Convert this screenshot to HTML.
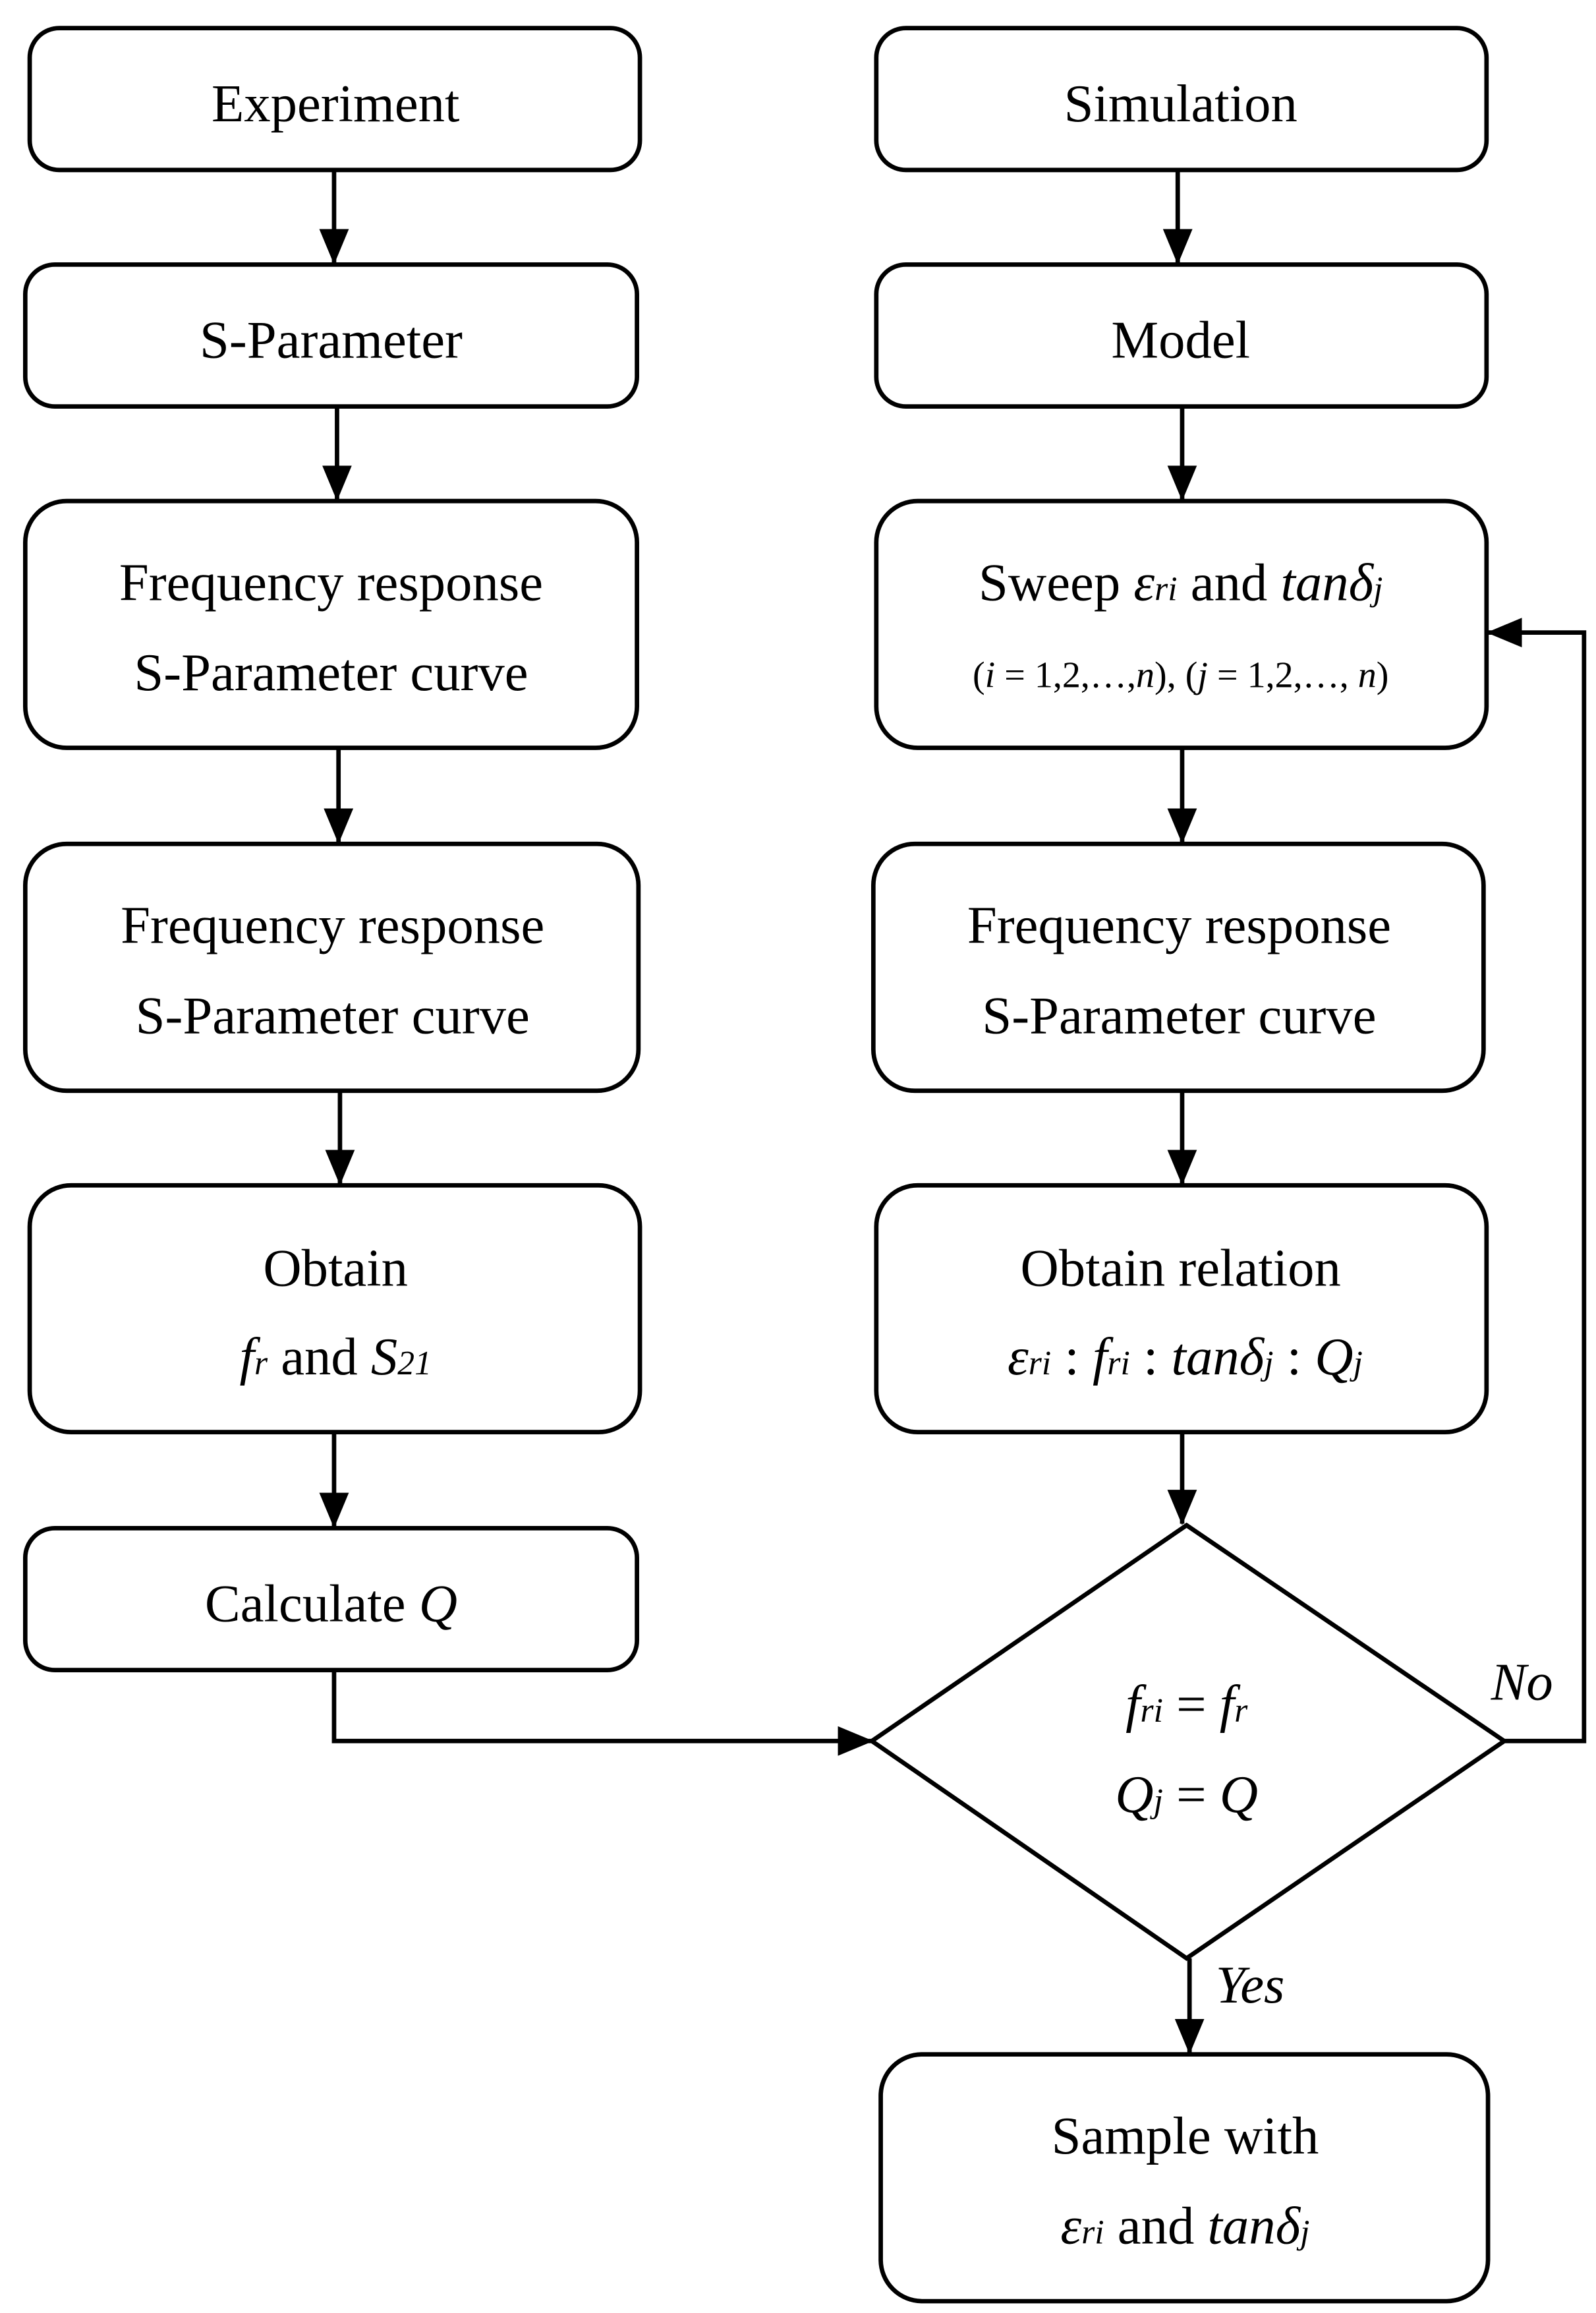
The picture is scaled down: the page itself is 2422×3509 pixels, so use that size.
<!DOCTYPE html>
<html><head><meta charset="utf-8"><style>
html,body{margin:0;padding:0;background:#fff;}
svg{display:block;}
text{font-family:"Liberation Serif",serif;fill:#000;}
</style></head><body>
<svg width="2422" height="3509" viewBox="0 0 1080 1565" xmlns="http://www.w3.org/2000/svg">
<defs>
<marker id="a" markerWidth="24" markerHeight="20" refX="23" refY="10" orient="auto" markerUnits="userSpaceOnUse" viewBox="0 0 24 20">
<path d="M0,0 L24,10 L0,20 z" fill="#000"/>
</marker>
</defs>
<g fill="none" stroke="#000" stroke-width="3">
<rect x="20" y="19" width="413" height="96" rx="20"/>
<rect x="17" y="179" width="414" height="96" rx="20"/>
<rect x="17" y="339" width="414" height="167" rx="28"/>
<rect x="17" y="571" width="415" height="167" rx="28"/>
<rect x="20" y="802" width="413" height="167" rx="28"/>
<rect x="17" y="1034" width="414" height="96" rx="20"/>
<rect x="593" y="19" width="413" height="96" rx="20"/>
<rect x="593" y="179" width="413" height="96" rx="20"/>
<rect x="593" y="339" width="413" height="167" rx="28"/>
<rect x="591" y="571" width="413" height="167" rx="28"/>
<rect x="593" y="802" width="413" height="167" rx="28"/>
<rect x="596" y="1390" width="411" height="167" rx="28"/>
<polygon points="803,1032 1018,1178 803,1325 590,1178"/>
</g>
<g stroke="#000" stroke-width="3" fill="none">
<path d="M226,115 V178" marker-end="url(#a)"/>
<path d="M228,275 V338" marker-end="url(#a)"/>
<path d="M229,506 V570" marker-end="url(#a)"/>
<path d="M230,738 V801" marker-end="url(#a)"/>
<path d="M226,969 V1033" marker-end="url(#a)"/>
<path d="M226,1130 V1178 H590" marker-end="url(#a)"/>
<path d="M797,115 V178" marker-end="url(#a)"/>
<path d="M800,275 V338" marker-end="url(#a)"/>
<path d="M800,506 V570" marker-end="url(#a)"/>
<path d="M800,738 V801" marker-end="url(#a)"/>
<path d="M800,969 V1031" marker-end="url(#a)"/>
<path d="M1018,1178 H1072 V428 H1007" marker-end="url(#a)"/>
<path d="M805,1325 V1389" marker-end="url(#a)"/>
</g>
<g font-size="36" text-anchor="middle">
<text x="227" y="82">Experiment</text>
<text x="224" y="242">S-Parameter</text>
<text x="224" y="406">Frequency response</text>
<text x="224" y="467">S-Parameter curve</text>
<text x="225" y="638">Frequency response</text>
<text x="225" y="699">S-Parameter curve</text>
<text x="227" y="870">Obtain</text>
<text x="227" y="930"><tspan font-style="italic">f</tspan><tspan font-style="italic" font-size="23">r</tspan> and <tspan font-style="italic">S</tspan><tspan font-style="italic" font-size="23">21</tspan></text>
<text x="224" y="1097">Calculate <tspan font-style="italic">Q</tspan></text>
<text x="799" y="82">Simulation</text>
<text x="799" y="242">Model</text>
<text x="799" y="406">Sweep <tspan font-style="italic">ε</tspan><tspan font-style="italic" font-size="23">ri</tspan> and <tspan font-style="italic">tanδ</tspan><tspan font-style="italic" font-size="23">j</tspan></text>
<text x="799" y="465" font-size="25">(<tspan font-style="italic">i</tspan> = 1,2,…,<tspan font-style="italic">n</tspan>), (<tspan font-style="italic">j</tspan> = 1,2,…, <tspan font-style="italic">n</tspan>)</text>
<text x="798" y="638">Frequency response</text>
<text x="798" y="699">S-Parameter curve</text>
<text x="799" y="870">Obtain relation</text>
<text x="802" y="930"><tspan font-style="italic">ε</tspan><tspan font-style="italic" font-size="23">ri</tspan> : <tspan font-style="italic">f</tspan><tspan font-style="italic" font-size="23">ri</tspan> : <tspan font-style="italic">tanδ</tspan><tspan font-style="italic" font-size="23">j</tspan> : <tspan font-style="italic">Q</tspan><tspan font-style="italic" font-size="23">j</tspan></text>
<text x="803" y="1165"><tspan font-style="italic">f</tspan><tspan font-style="italic" font-size="23">ri</tspan> = <tspan font-style="italic">f</tspan><tspan font-style="italic" font-size="23">r</tspan></text>
<text x="803" y="1226"><tspan font-style="italic">Q</tspan><tspan font-style="italic" font-size="23">j</tspan> = <tspan font-style="italic">Q</tspan></text>
<text x="1030" y="1150" font-style="italic">No</text>
<text x="846" y="1355" font-style="italic">Yes</text>
<text x="802" y="1457">Sample with</text>
<text x="802" y="1518"><tspan font-style="italic">ε</tspan><tspan font-style="italic" font-size="23">ri</tspan> and <tspan font-style="italic">tanδ</tspan><tspan font-style="italic" font-size="23">j</tspan></text>
</g>
</svg>
</body></html>
